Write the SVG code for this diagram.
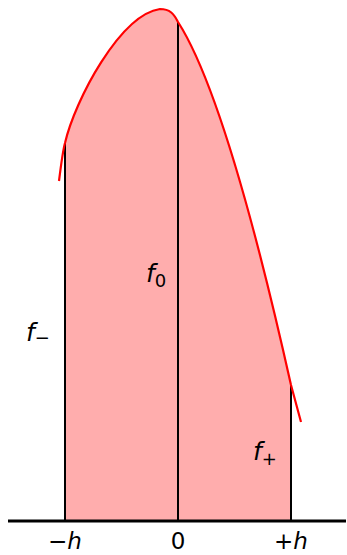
<svg xmlns="http://www.w3.org/2000/svg" width="347" height="555" viewBox="0 0 347 555">
<style>
.lbl{font-family:"DejaVu Sans","Liberation Sans",sans-serif;font-size:25px;fill:#000}
.tick{font-family:"DejaVu Sans","Liberation Sans",sans-serif;font-size:23px;fill:#000}
.it{font-style:italic}
.sub{font-size:18px}
.v{stroke:#000;stroke-width:2;fill:none}
.curve{stroke:#ff0000;stroke-width:2.2;fill:none}
</style>
<rect width="347" height="555" fill="#fff"/>
<g id="area">
<path d="M65,521 L65,143 C75,100 120,15 160,9 C170,9 174,14 178,22 C225,95 272,300 291,385 L291,521 Z" fill="#ffadad"/>
</g>
<g id="connectors">
<line class="v" x1="65" y1="143" x2="65" y2="521"/>
<line class="v" x1="178" y1="22" x2="178" y2="521"/>
<line class="v" x1="291" y1="385" x2="291" y2="521"/>
<line x1="8" y1="521" x2="346" y2="521" stroke="#000" stroke-width="3"/>
</g>
<g id="curve">
<path class="curve" d="M59,181 C61,165 63,150 65,143 C75,100 120,15 160,9 C170,9 174,14 178,22 C225,95 272,300 291,385 L301,422"/>
</g>
<g id="label-f0"><text class="lbl" x="146" y="282"><tspan class="it">f</tspan><tspan class="sub" dy="5">0</tspan></text></g>
<g id="label-fminus"><text class="lbl" x="26" y="341"><tspan class="it">f</tspan><tspan class="sub" dy="3">−</tspan></text></g>
<g id="label-fplus"><text class="lbl" x="253" y="460"><tspan class="it">f</tspan><tspan class="sub" dy="5">+</tspan></text></g>
<g id="tick-minus"><text class="tick" x="65" y="549" text-anchor="middle">−<tspan class="it">h</tspan></text></g>
<g id="tick-zero"><text class="tick" x="178" y="549" text-anchor="middle">0</text></g>
<g id="tick-plus"><text class="tick" x="291" y="549" text-anchor="middle">+<tspan class="it">h</tspan></text></g>
</svg>
